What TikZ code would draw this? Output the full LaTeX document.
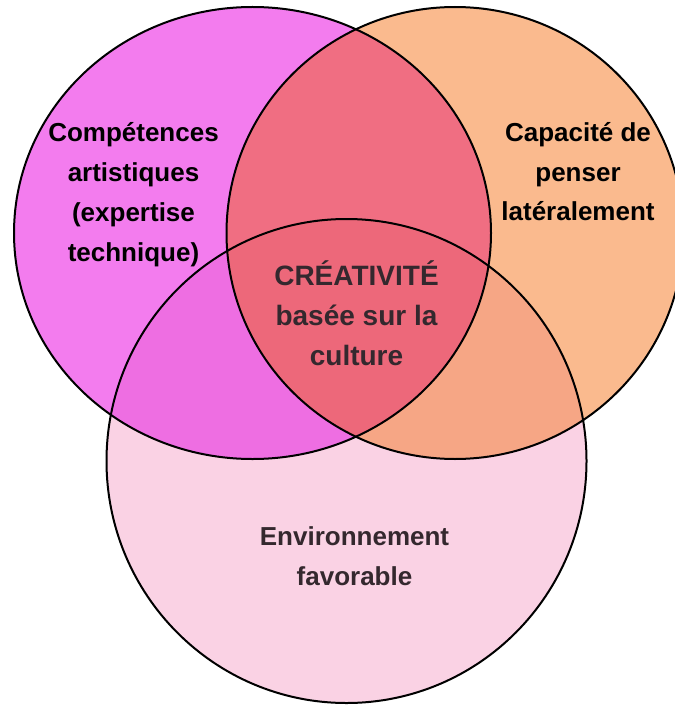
\documentclass[tikz,border=0pt]{standalone}
\usepackage{fontspec}
\setmainfont{Liberation Sans}
\definecolor{cL}{RGB}{243,124,238}
\definecolor{cR}{RGB}{250,186,142}
\definecolor{cB}{RGB}{250,210,228}
\definecolor{cLR}{RGB}{240,110,130}
\definecolor{cLB}{RGB}{238,110,226}
\definecolor{cRB}{RGB}{246,166,133}
\definecolor{cLRB}{RGB}{237,104,122}
\definecolor{txtdark}{RGB}{52,40,46}
\tikzset{
  lbl/.style={font=\fontsize{26}{40}\selectfont\bfseries, inner sep=0pt, anchor=base},
  lblc/.style={lbl, font=\fontsize{28}{40}\selectfont\bfseries, text=txtdark},
  lbld/.style={lbl, text=txtdark},
  outline/.style={draw=black, line width=2pt}
}
\begin{document}
\begin{tikzpicture}[x=1pt,y=-1pt]
\useasboundingbox (0,0) rectangle (674,706);
\def\Lpath{(252.5,233) ellipse [x radius=238.5pt, y radius=226pt]}
\def\Rpath{(455,233) ellipse [x radius=228.5pt, y radius=226pt]}
\def\Bpath{(346.5,461) ellipse [x radius=240pt, y radius=242pt]}
% base fills
\fill[cL] \Lpath;
\fill[cR] \Rpath;
\fill[cB] \Bpath;
% pairwise overlaps
\begin{scope}
  \clip \Lpath;
  \fill[cLR] \Rpath;
  \fill[cLB] \Bpath;
\end{scope}
\begin{scope}
  \clip \Rpath;
  \fill[cRB] \Bpath;
\end{scope}
\begin{scope}
  \clip \Lpath;
  \clip \Rpath;
  \fill[cLRB] \Bpath;
\end{scope}
% outlines
\draw[outline] \Lpath;
\draw[outline] \Rpath;
\draw[outline] \Bpath;
% left label
\node[lbl] (l1) at (133.5,141.7) {Compétences};
\node[lbl] (l2) at (133.5,181.7) {artistiques};
\node[lbl] (l3) at (133.5,221.7) {(expertise};
\node[lbl] (l4) at (133.5,261.7) {technique)};
% right label
\node[lbl] (r1) at (578,141.7) {Capacité de};
\node[lbl] (r2) at (578,181.7) {penser};
\node[lbl] (r3) at (578,220.5) {latéralement};
% centre label
\node[lblc] (c1) at (356.5,285) {CRÉATIVITÉ};
\node[lblc] (c2) at (356.5,325) {basée sur la};
\node[lblc] (c3) at (356.5,365) {culture};
% bottom label
\node[lbld] (b1) at (354.5,545) {Environnement};
\node[lbld] (b2) at (354.5,585) {favorable};
\end{tikzpicture}
\end{document}
